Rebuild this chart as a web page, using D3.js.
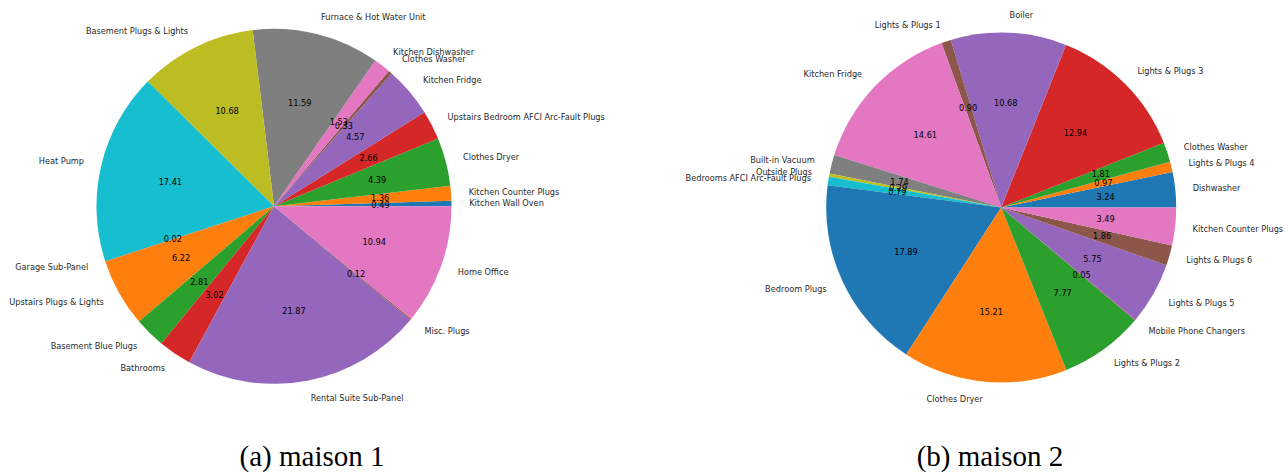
<!DOCTYPE html>
<html>
<head>
<meta charset="utf-8">
<script src="https://cdn.jsdelivr.net/npm/d3@7"></script>
<style>
  html, body { margin: 0; padding: 0; background: #fff; }
  svg { display: block; }
</style>
</head>
<body>
<svg id="chart" width="1288" height="474"></svg>
<script>
// Energy share per circuit, house 1 (counter-clockwise from 3 o'clock)
const house1Labels = [
  "Kitchen Wall Oven", "Kitchen Counter Plugs", "Clothes Dryer",
  "Upstairs Bedroom AFCI Arc-Fault Plugs", "Kitchen Fridge", "Clothes Washer",
  "Kitchen Dishwasher", "Furnace & Hot Water Unit", "Basement Plugs & Lights",
  "Heat Pump", "Garage Sub-Panel", "Upstairs Plugs & Lights",
  "Basement Blue Plugs", "Bathrooms", "Rental Suite Sub-Panel",
  "Misc. Plugs", "Home Office"
];
const house1Values = [
  0.49, 1.36, 4.39, 2.66, 4.57, 0.33, 1.53, 11.59, 10.68,
  17.41, 0.02, 6.22, 2.81, 3.02, 21.87, 0.12, 10.94
];

// Energy share per circuit, house 2
const house2Labels = [
  "Dishwasher", "Lights & Plugs 4", "Clothes Washer", "Lights & Plugs 3",
  "Boiler", "Lights & Plugs 1", "Kitchen Fridge", "Built-in Vacuum",
  "Outside Plugs", "Bedrooms AFCI Arc-Fault Plugs", "Bedroom Plugs",
  "Clothes Dryer", "Lights & Plugs 2", "Mobile Phone Changers",
  "Lights & Plugs 5", "Lights & Plugs 6", "Kitchen Counter Plugs"
];
const house2Values = [
  3.24, 0.97, 1.81, 12.94, 10.68, 0.90, 14.61, 1.74,
  0.29, 0.79, 17.89, 15.21, 7.77, 0.05, 5.75, 1.86, 3.49
];

const captions = ["(a) maison 1", "(b) maison 2"];

const palette = [
  "#1f77b4", "#ff7f0e", "#2ca02c", "#d62728", "#9467bd",
  "#8c564b", "#e377c2", "#7f7f7f", "#bcbd22", "#17becf"
];

const svg = d3.select("#chart");

function drawPie(labels, values, cx, cy, r, caption, capX, capY) {
  const color = d3.scaleOrdinal().domain(d3.range(values.length))
    .range(palette);

  // start at 3 o'clock and run counter-clockwise
  const pie = d3.pie().sort(null).value(d => d.v)
    .startAngle(Math.PI / 2).endAngle(Math.PI / 2 - 2 * Math.PI);

  const data = labels.map((l, i) => ({ label: l, v: values[i], i }));
  const arcs = pie(data);

  const g = svg.append("g").attr("transform", `translate(${cx},${cy})`);
  const arc = d3.arc().innerRadius(0).outerRadius(r);

  g.selectAll("path.slice").data(arcs).join("path")
    .attr("class", "slice")
    .attr("d", arc)
    .attr("fill", d => color(d.data.i));

  const mid = d => (d.startAngle + d.endAngle) / 2;

  // category labels at 1.1 r
  g.selectAll("text.lbl").data(arcs).join("text")
    .attr("class", "lbl")
    .attr("x", d => 1.1 * r * Math.sin(mid(d)))
    .attr("y", d => -1.1 * r * Math.cos(mid(d)))
    .attr("text-anchor", d => Math.sin(mid(d)) > 0 ? "start" : "end")
    .attr("dominant-baseline", "central")
    .attr("font-family", "DejaVu Sans")
    .attr("font-size", 8.2)
    .attr("fill", "#2a2a2a")
    .text(d => d.data.label);

  // percentage labels at 0.6 r
  g.selectAll("text.pct").data(arcs).join("text")
    .attr("class", "pct")
    .attr("x", d => 0.6 * r * Math.sin(mid(d)))
    .attr("y", d => -0.6 * r * Math.cos(mid(d)))
    .attr("text-anchor", "middle")
    .attr("dominant-baseline", "central")
    .attr("font-family", "DejaVu Sans")
    .attr("font-size", 8.2)
    .attr("fill", "#000")
    .text(d => d.data.v.toFixed(2));

  svg.append("text")
    .attr("x", capX).attr("y", capY)
    .attr("text-anchor", "middle")
    .attr("font-family", "Liberation Serif")
    .attr("font-size", 29)
    .attr("fill", "#000")
    .text(caption);
}

drawPie(house1Labels, house1Values, 274, 206.3, 177.5, captions[0], 312, 466);
drawPie(house2Labels, house2Values, 1001.2, 207.5, 175, captions[1], 990, 466);
</script>
</body>
</html>
